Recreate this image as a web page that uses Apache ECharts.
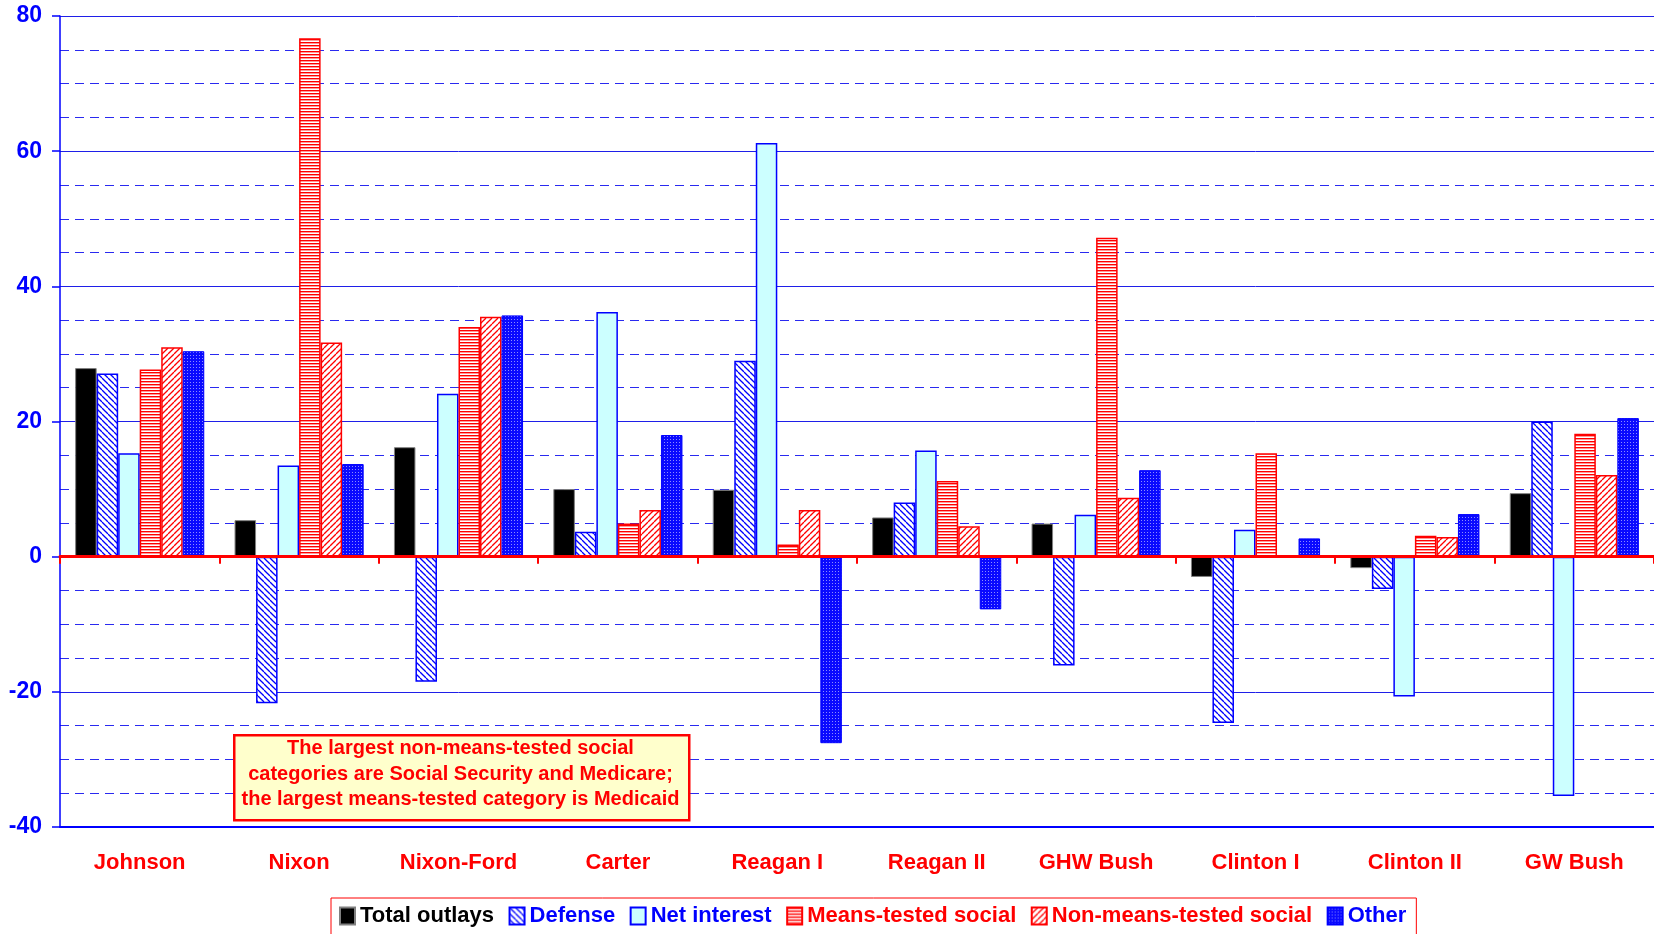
<!DOCTYPE html>
<html><head><meta charset="utf-8">
<script src="https://cdn.jsdelivr.net/npm/echarts@6/dist/echarts.min.js"></script>
<style>html,body{margin:0;padding:0;background:#fff}#c{width:1654px;height:934px}</style>
</head><body><div id="c"></div>
<script>
const categories = ['Johnson','Nixon','Nixon-Ford','Carter','Reagan I','Reagan II','GHW Bush','Clinton I','Clinton II','GW Bush'];
const seriesNames = ['Total outlays','Defense','Net interest','Means-tested social','Non-means-tested social','Other'];
const totalOutlays   = [27.9,  5.4, 16.2, 10.0,  9.9,  5.8,  4.9, -3.0, -1.7,  9.4];
const defense        = [27.1,-21.7,-18.5,  3.7, 29.0,  8.0,-16.1,-24.6, -4.8, 20.0];
const netInterest    = [15.3, 13.5, 24.1, 36.2, 61.2, 15.7,  6.2,  4.0,-20.7,-35.4];
const meansTested    = [27.7, 76.7, 34.0,  4.9,  1.8, 11.2, 47.2, 15.3,  3.1, 18.2];
const nonMeansTested = [31.0, 31.7, 35.5,  6.9,  6.9,  4.5,  8.7,  0.0,  2.9, 12.1];
const other          = [30.4, 13.7, 35.7, 18.0,-27.6, -7.8, 12.8,  2.7,  6.3, 20.5];
const yMin = -40, yMax = 80, yStep = 20;
const noteLines = ['The largest non-means-tested social','categories are Social Security and Medicare;','the largest means-tested category is Medicaid'];

function pat(w, h, bg, draw) {
  const c = document.createElement('canvas'); c.width = w; c.height = h;
  const g = c.getContext('2d'); g.fillStyle = bg; g.fillRect(0, 0, w, h); draw(g);
  return { image: c, repeat: 'repeat' };
}
const BLUE = '#0000ff', RED = '#ff0000';
const defPat = pat(6, 6, '#ffffff', g => { g.strokeStyle = BLUE; g.lineWidth = 1.3;
  for (const x of [-6, 0, 6]) { g.beginPath(); g.moveTo(x, 0); g.lineTo(x + 6, 6); g.stroke(); } });
const nonPat = pat(6, 6, '#ffffff', g => { g.strokeStyle = RED; g.lineWidth = 1.3;
  for (const x of [-6, 0, 6]) { g.beginPath(); g.moveTo(x, 6); g.lineTo(x + 6, 0); g.stroke(); } });
const meansPat = pat(4, 3, '#ffffff', g => { g.fillStyle = RED; g.fillRect(0, 0, 4, 1.4); });
const otherPat = pat(3, 3, '#0a0aff', g => { g.fillStyle = '#8c8cff'; g.fillRect(1, 1, 1, 1); });

const styles = [
  { color: '#000000', borderColor: '#808080', borderWidth: 1 },
  { color: defPat, borderColor: BLUE, borderWidth: 1.5 },
  { color: '#ccffff', borderColor: BLUE, borderWidth: 1.5 },
  { color: meansPat, borderColor: RED, borderWidth: 1.5 },
  { color: nonPat, borderColor: RED, borderWidth: 1.5 },
  { color: otherPat, borderColor: BLUE, borderWidth: 1 }
];
const dataArr = [totalOutlays, defense, netInterest, meansTested, nonMeansTested, other];
const legendColors = ['#000000', BLUE, BLUE, RED, RED, BLUE];
const FONT = 'Liberation Sans, Arial, sans-serif';

const chart = echarts.init(document.getElementById('c'), null, { renderer: 'canvas' });
chart.setOption({
  animation: false,
  backgroundColor: '#ffffff',
  grid: { left: 60, right: 0, top: 16, bottom: 107 },
  xAxis: [
    { type: 'category', data: categories, z: 5,
      axisLine: { onZero: true, lineStyle: { color: RED, width: 3 } },
      axisTick: { show: true, length: 7, lineStyle: { color: RED, width: 2 } },
      axisLabel: { show: false }, splitLine: { show: false } },
    { type: 'category', data: categories, position: 'bottom',
      axisLine: { onZero: false, lineStyle: { color: BLUE, width: 2 } },
      axisTick: { show: false },
      axisLabel: { color: RED, fontSize: 22, fontWeight: 'bold', fontFamily: FONT, margin: 25 } }
  ],
  yAxis: {
    type: 'value', min: yMin, max: yMax, interval: yStep,
    axisLine: { show: true, lineStyle: { color: BLUE, width: 1.5 } },
    axisTick: { show: true, length: 8, lineStyle: { color: BLUE, width: 1.5 } },
    axisLabel: { color: BLUE, fontSize: 23, fontWeight: 'bold', fontFamily: FONT, margin: 18 },
    splitLine: { show: true, lineStyle: { color: '#1f1fe8', width: 1 } },
    minorTick: { show: false, splitNumber: 4 },
    minorSplitLine: { show: true, lineStyle: { color: '#2a2af0', width: 1, type: [9, 6] } }
  },
  legend: {
    left: 331, top: 898, icon: 'rect', itemWidth: 15, itemHeight: 17, itemGap: 14.5,
    padding: [7, 10, 12, 8], borderColor: RED, borderWidth: 1, backgroundColor: '#ffffff',
    textStyle: { fontSize: 22, fontWeight: 'bold', fontFamily: FONT },
    data: seriesNames.map((n, i) => ({ name: n, textStyle: { color: legendColors[i] } }))
  },
  series: seriesNames.map((n, i) => ({
    name: n, type: 'bar', xAxisIndex: 0, data: dataArr[i],
    barGap: '0%', barCategoryGap: '19%', itemStyle: styles[i]
  })),
  graphic: [
    { type: 'rect', left: 233, top: 734, z: 50,
      shape: { width: 455, height: 85 }, style: { fill: '#ffffcc', stroke: RED, lineWidth: 2.5 } },
    { type: 'text', z: 51, x: 460.5, y: 774,
      style: { text: noteLines.join('\n'), fill: RED, font: 'bold 20px ' + FONT,
        align: 'center', verticalAlign: 'middle', textAlign: 'center', textVerticalAlign: 'middle', lineHeight: 25.5 } }
  ]
});
</script></body></html>
